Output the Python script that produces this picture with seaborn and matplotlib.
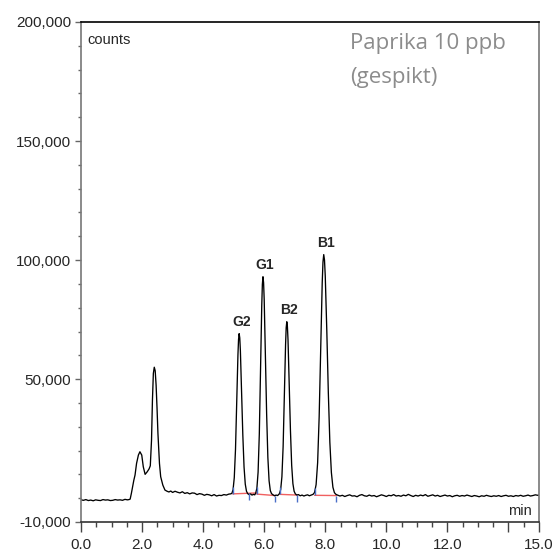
# Chromatogram Paprika 10 ppb (gespikt) - aflatoxins G2, G1, B2, B1

import pandas as pd
import matplotlib
matplotlib.use("Agg")
import matplotlib.pyplot as plt
from matplotlib.ticker import MultipleLocator
import seaborn as sns

# trace, region by region: time (min) / counts
t_front = [0.00, 0.08, 0.16, 0.24, 0.32, 0.40, 0.48, 0.56, 0.64, 0.72,
           0.80, 0.88, 0.96, 1.04, 1.12, 1.20, 1.28, 1.36, 1.44, 1.52, 1.57]
c_front = [-700, -900, -600, -1000, -800, -1100, -700, -900, -1000, -600,
           -800, -700, -1000, -900, -600, -800, -700, -900, -500, -700, -600]

t_solvent = [1.61, 1.65, 1.69, 1.73, 1.77, 1.82, 1.88, 1.93, 1.99, 2.04,
             2.10, 2.17, 2.23, 2.27, 2.31, 2.34, 2.37, 2.40, 2.43, 2.46,
             2.49, 2.52, 2.57, 2.61, 2.68, 2.75, 2.82, 2.88, 2.94]
c_solvent = [-400, 2000, 4800, 7500, 9700, 14600, 18100, 19500, 18100, 13200,
             10000, 11100, 12300, 13600, 24400, 41200, 52400, 55000, 53500, 47500,
             38000, 27200, 14600, 9000, 5500, 3400, 2900, 2600, 3000]

t_mid = [3.00, 3.08, 3.16, 3.24, 3.32, 3.40, 3.48, 3.56, 3.64, 3.72,
         3.80, 3.88, 3.96, 4.04, 4.12, 4.20, 4.28, 4.36, 4.44, 4.52,
         4.60, 4.68, 4.76, 4.84, 4.90]
c_mid = [2400, 2900, 2500, 2200, 2700, 2000, 2300, 1800, 2200, 2100,
         1500, 1900, 1700, 1200, 1600, 1400, 1000, 1500, 900, 1200,
         1100, 1500, 1300, 1700, 1800]

t_g2 = [4.94, 4.98, 5.02, 5.06, 5.10, 5.14, 5.16, 5.18, 5.20, 5.22,
        5.26, 5.30, 5.34, 5.38, 5.42, 5.46, 5.50, 5.55, 5.60, 5.65, 5.69]
c_g2 = [2000, 3500, 8600, 20400, 39800, 60200, 66700, 69100, 67300, 62000,
        44900, 26500, 13100, 5900, 2900, 1900, 1500, 1800, 1300, 1600, 1400]

t_g1 = [5.72, 5.76, 5.80, 5.84, 5.88, 5.92, 5.94, 5.96, 5.98, 6.00,
        6.04, 6.08, 6.12, 6.16, 6.20, 6.24, 6.29, 6.34, 6.39, 6.44, 6.47]
c_g1 = [2050, 4100, 10900, 26900, 53300, 80900, 89800, 93000, 90500, 83400,
        60200, 35300, 17100, 7300, 3200, 1900, 1400, 1000, 1300, 1100, 1500]

t_b2 = [6.50, 6.54, 6.58, 6.62, 6.66, 6.70, 6.72, 6.74, 6.76, 6.78,
        6.82, 6.86, 6.90, 6.94, 6.98, 7.02, 7.07, 7.12, 7.18, 7.24,
        7.30, 7.36, 7.42, 7.48, 7.54, 7.60]
c_b2 = [1900, 3600, 9000, 21700, 42600, 64500, 71600, 74100, 72100, 66500,
        48100, 28300, 13800, 6100, 2900, 1800, 1300, 1500, 1000, 1300,
        900, 1200, 1400, 1000, 1300, 1600]

t_b1 = [7.65, 7.70, 7.75, 7.80, 7.85, 7.90, 7.925, 7.95, 7.975, 8.00,
        8.05, 8.10, 8.15, 8.20, 8.25, 8.30, 8.35]
c_b1 = [2400, 5700, 14900, 34100, 62600, 90400, 99200, 102300, 100000, 93200,
        70500, 44400, 23500, 10800, 4600, 2300, 1600]

t_tail = [8.40, 8.48, 8.56, 8.64, 8.72, 8.80, 8.88, 8.96, 9.04, 9.12,
          9.20, 9.28, 9.36, 9.44, 9.52, 9.60, 9.68, 9.76, 9.84, 9.92,
          10.00, 10.08, 10.16, 10.24, 10.32, 10.40, 10.48, 10.56, 10.64, 10.72,
          10.80, 10.88, 10.96, 11.04, 11.12, 11.20, 11.28, 11.36, 11.44, 11.52,
          11.60, 11.68, 11.76, 11.84, 11.92, 12.00, 12.08, 12.16, 12.24, 12.32,
          12.40, 12.48, 12.56, 12.64, 12.72, 12.80, 12.88, 12.96, 13.04, 13.12,
          13.20, 13.28, 13.36, 13.44, 13.52, 13.60, 13.68, 13.76, 13.84, 13.92,
          14.00, 14.08, 14.16, 14.24, 14.32, 14.40, 14.48, 14.56, 14.64, 14.72,
          14.80, 14.88, 14.96, 15.00]
c_tail = [1300, 900, 1200, 700, 1100, 1400, 900, 1000, 600, 1200,
          1500, 1000, 800, 1300, 900, 1100, 600, 1000, 1400, 1100,
          700, 1200, 1000, 1500, 900, 1100, 800, 1300, 1000, 1600,
          1100, 700, 1200, 900, 1300, 1000, 1500, 800, 1100, 1400,
          900, 1200, 700, 1000, 1300, 900, 1100, 600, 1000, 1200,
          800, 1100, 900, 1300, 1000, 700, 1100, 900, 600, 1000,
          800, 1200, 900, 700, 1000, 800, 1100, 700, 1000, 1200,
          800, 1000, 700, 1100, 900, 1200, 800, 1000, 1300, 900,
          1100, 1400, 1200, 1300]

# peak labels
peak_names = ["G2", "G1", "B2", "B1"]
peak_rt = [5.18, 5.96, 6.74, 7.95]
peak_top = [69100, 93000, 74100, 102300]

# integration baselines (red) and start / end marks (blue)
base_t0 = [4.97, 5.76, 6.52, 7.65]
base_c0 = [1800, 1700, 1600, 1200]
base_t1 = [5.76, 6.36, 7.09, 8.36]
base_c1 = [2200, 1100, 1300, 1100]
mark_start = [4.97, 5.76, 6.52, 7.65]
mark_start_c = [1800, 1700, 1600, 1200]
mark_end = [5.51, 6.36, 7.09, 8.36]
mark_end_c = [2100, 1100, 1300, 1100]

trace = pd.DataFrame({
    "min": t_front + t_solvent + t_mid + t_g2 + t_g1 + t_b2 + t_b1 + t_tail,
    "counts": c_front + c_solvent + c_mid + c_g2 + c_g1 + c_b2 + c_b1 + c_tail,
})

segs = pd.DataFrame({
    "min": base_t0 + base_t1,
    "counts": base_c0 + base_c1,
    "seg": list(range(4)) + list(range(4)),
})

sns.set_theme(style="ticks")
plt.rcParams["font.family"] = ["Liberation Sans", "DejaVu Sans"]

fig = plt.figure(figsize=(5.57, 5.55), dpi=100)
ax = fig.add_axes([0.1454, 0.0595, 0.8223, 0.9009])

sns.lineplot(data=segs, x="min", y="counts", units="seg", estimator=None,
             color="#f06060", lw=1.0, ax=ax)
sns.lineplot(data=trace, x="min", y="counts", estimator=None, sort=False,
             color="black", lw=0.95, ax=ax)
ax.vlines(mark_start, mark_start_c, [c + 3000 for c in mark_start_c],
          color="#4a6fc8", lw=1.0)
ax.vlines(mark_end, [c - 2800 for c in mark_end_c], mark_end_c,
          color="#4a6fc8", lw=1.0)

for name, rt, top in zip(peak_names, peak_rt, peak_top):
    ax.annotate(name, (rt, top), xytext=(1.5, 3.5), textcoords="offset points",
                ha="center", va="bottom", fontsize=10, fontweight="bold")

ax.set_xlim(0, 15)
ax.set_ylim(-10000, 200000)

xt = [0, 2, 4, 6, 8, 10, 12, 14, 15]
ax.set_xticks(xt)
ax.set_xticklabels(["0.0", "2.0", "4.0", "6.0", "8.0", "10.0", "12.0", "", "15.0"])
ax.xaxis.set_minor_locator(MultipleLocator(0.5))
yt = [-10000, 50000, 100000, 150000, 200000]
ax.set_yticks(yt)
ax.set_yticklabels([f"{v:,}" for v in yt])
ax.yaxis.set_minor_locator(MultipleLocator(10000))

ax.tick_params(axis="x", which="major", length=7, width=1, color="#444444",
               pad=4.5, labelsize=11)
ax.tick_params(axis="x", which="minor", length=3.5, width=1, color="#444444")
ax.tick_params(axis="y", which="major", length=4, width=1, color="#666666",
               pad=3, labelsize=11)
ax.tick_params(axis="y", which="minor", length=2, width=1, color="#666666")

ax.set_xlabel("")
ax.set_ylabel("")
for side, col in [("left", "#777777"), ("right", "#777777"),
                  ("top", "black"), ("bottom", "#333333")]:
    ax.spines[side].set_visible(True)
    ax.spines[side].set_color(col)
    ax.spines[side].set_linewidth(1.2)

ax.text(0.015, 0.956, "counts", transform=ax.transAxes, fontsize=10.5,
        ha="left", va="baseline")
ax.text(0.985, 0.014, "min", transform=ax.transAxes, fontsize=10.5,
        ha="right", va="baseline")
ax.text(0.587, 0.946, "Paprika 10 ppb", transform=ax.transAxes, fontsize=16,
        family="Open Sans", color="#8c8c8c", ha="left", va="baseline")
ax.text(0.587, 0.878, "(gespikt)", transform=ax.transAxes, fontsize=16,
        family="Open Sans", color="#8c8c8c", ha="left", va="baseline")

fig.savefig("out.png", dpi=100)
